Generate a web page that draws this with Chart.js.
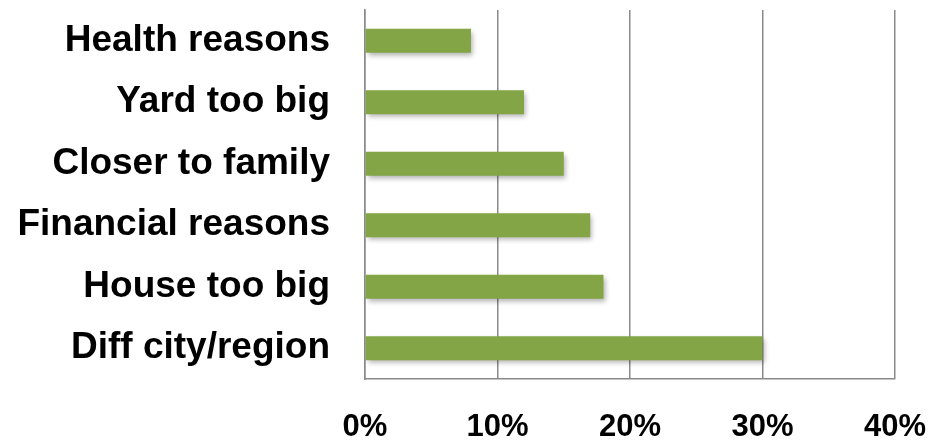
<!DOCTYPE html>
<html>
<head>
<meta charset="utf-8">
<script src="https://cdn.jsdelivr.net/npm/chart.js@4/dist/chart.umd.min.js"></script>
<style>
  body { margin: 0; background: #fff; }
</style>
</head>
<body>
<canvas id="reasonsChart" width="949" height="442"></canvas>
<script>
// reasons for moving, share of respondents (%)
var reasons = ['Health reasons', 'Yard too big', 'Closer to family', 'Financial reasons', 'House too big', 'Diff city/region'];
var shares = [8, 12, 15, 17, 18, 30];
var axisTicks = [0, 10, 20, 30, 40];

var GREEN = '#83A545';
var GRID = '#8a8a8a';

// soft drop shadow under the bars
var barShadow = {
    id: 'barShadow',
    beforeDatasetsDraw: function(chart) {
        var ctx = chart.ctx;
        ctx.save();
        ctx.shadowColor = 'rgba(0,0,0,0.3)';
        ctx.shadowBlur = 5;
        ctx.shadowOffsetX = 2;
        ctx.shadowOffsetY = 3;
    },
    afterDatasetsDraw: function(chart) {
        chart.ctx.restore();
    }
};

var ctx = document.getElementById('reasonsChart').getContext('2d');
var myChart = new Chart(ctx, {
    type: 'bar',
    data: {
        labels: reasons,
        datasets: [{
            data: shares,
            backgroundColor: GREEN,
            borderWidth: 0,
            categoryPercentage: 1,
            barPercentage: 0.39
        }]
    },
    options: {
        indexAxis: 'y',
        responsive: false,
        animation: false,
        layout: { padding: { top: 10, right: 54, left: 0, bottom: 0 } },
        plugins: {
            legend: { display: false },
            tooltip: { enabled: false }
        },
        scales: {
            x: {
                min: axisTicks[0],
                max: axisTicks[axisTicks.length - 1],
                afterBuildTicks: function(scale) {
                    scale.ticks = axisTicks.map(function(v) { return { value: v }; });
                },
                afterFit: function(scale) {
                    scale.height = 63;
                    scale.paddingLeft = 0;
                    scale.paddingRight = 0;
                },
                grid: { color: GRID, lineWidth: 1.5, drawTicks: false },
                border: { color: GRID, width: 1.5 },
                ticks: {
                    padding: 30,
                    color: '#000',
                    maxRotation: 0,
                    font: { family: 'Liberation Sans, Arial, sans-serif', size: 31, weight: 'bold' },
                    callback: function(v) { return v + '%'; }
                }
            },
            y: {
                afterFit: function(scale) {
                    scale.width = 365;
                    scale.paddingTop = 0;
                    scale.paddingBottom = 0;
                },
                grid: { display: false, drawTicks: false },
                border: { color: GRID, width: 1.5 },
                ticks: {
                    padding: 35,
                    color: '#000',
                    font: { family: 'Liberation Sans, Arial, sans-serif', size: 37, weight: 'bold' }
                }
            }
        }
    },
    plugins: [barShadow]
});
</script>
</body>
</html>
